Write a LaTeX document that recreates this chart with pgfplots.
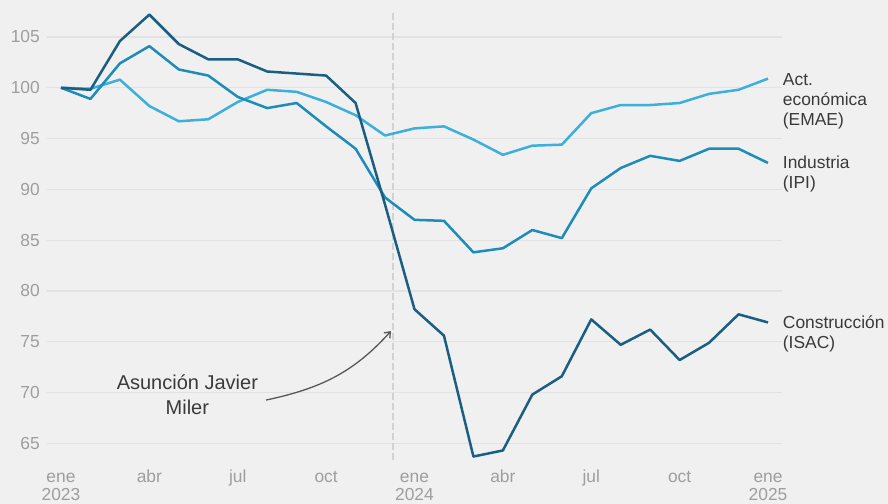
\documentclass[border=0pt]{standalone}
\usepackage{fontspec}
\setmainfont{Liberation Sans}
\usepackage{pgfplots}
\pgfplotsset{compat=1.18}
\usetikzlibrary{arrows.meta}
\definecolor{bg}{HTML}{F0F0F0}
\definecolor{gridc}{HTML}{E2E2E2}
\definecolor{tickc}{HTML}{9E9E9E}
\definecolor{txtc}{HTML}{3A3A3A}
\definecolor{cons}{HTML}{1A5F82}
\definecolor{ind}{HTML}{1E8CB9}
\definecolor{emae}{HTML}{3CAFDC}
\definecolor{vline}{HTML}{D2D2D2}
\pgfplotstableread{
m v
0 100
1 99.8
2 104.6
3 107.2
4 104.3
5 102.8
6 102.8
7 101.6
8 101.4
9 101.2
10 98.5
11 88.5
12 78.2
13 75.6
14 63.7
15 64.3
16 69.8
17 71.6
18 77.2
19 74.7
20 76.2
21 73.2
22 74.9
23 77.7
24 76.9
}\conststable
\pgfplotstableread{
m v
0 100
1 98.9
2 102.4
3 104.1
4 101.8
5 101.2
6 99.1
7 98.0
8 98.5
9 96.2
10 94.0
11 89.2
12 87.0
13 86.9
14 83.8
15 84.2
16 86.0
17 85.2
18 90.1
19 92.1
20 93.3
21 92.8
22 94.0
23 94.0
24 92.6
}\indtable
\pgfplotstableread{
m v
0 100
1 99.9
2 100.8
3 98.2
4 96.7
5 96.9
6 98.6
7 99.8
8 99.6
9 98.6
10 97.3
11 95.3
12 96.0
13 96.2
14 94.9
15 93.4
16 94.3
17 94.4
18 97.5
19 98.3
20 98.3
21 98.5
22 99.4
23 99.8
24 100.9
}\emaetable
\begin{document}
\begin{tikzpicture}
\path[use as bounding box, fill=bg] (0,0) rectangle (888bp,504bp);
\begin{axis}[
  at={(47bp,44bp)}, anchor=south west,
  scale only axis, width=735bp, height=447bp,
  xmin=-0.475, xmax=24.475, ymin=63.36, ymax=107.36,
  clip=false,
  axis line style={draw=none},
  major tick length=0pt,
  ytick={65,70,...,105},
  ymajorgrids,
  grid style={gridc, line width=1.2bp},
  xtick={0,3,...,24},
  xticklabels={ene,abr,jul,oct,ene,abr,jul,oct,ene},
  /pgf/number format/assume math mode=true,
  tick label style={font=\fontsize{17.4bp}{20bp}\selectfont, text=tickc, inner sep=0pt},
  xticklabel style={anchor=base, yshift=-22bp},
  yticklabel style={anchor=east, xshift=-7bp},
  every axis plot/.append style={line width=2.5bp, line join=round, no markers},
]
\draw[vline, line width=1.2bp, dash pattern=on 7bp off 3bp] (axis cs:11.27,63.36) -- (axis cs:11.27,107.36);
\addplot[emae] table[x=m,y=v] {\emaetable};
\addplot[ind] table[x=m,y=v] {\indtable};
\addplot[cons] table[x=m,y=v] {\conststable};
% year labels
\node[anchor=base, text=tickc, inner sep=0pt, font=\fontsize{17.4bp}{20bp}\selectfont] at (axis cs:0,59.4) {2023};
\node[anchor=base, text=tickc, inner sep=0pt, font=\fontsize{17.4bp}{20bp}\selectfont] at (axis cs:12,59.4) {2024};
\node[anchor=base, text=tickc, inner sep=0pt, font=\fontsize{17.4bp}{20bp}\selectfont] at (axis cs:24,59.4) {2025};
% right labels
\begin{scope}[every node/.style={anchor=base west, inner sep=0pt, text=txtc, font=\fontsize{17.4bp}{20bp}\selectfont}]
\node at (axis cs:24.5,100.27) {Act.};
\node at (axis cs:24.5,98.30) {económica};
\node at (axis cs:24.5,96.33) {(EMAE)};
\node at (axis cs:24.5,92.07) {Industria};
\node at (axis cs:24.5,90.10) {(IPI)};
\node at (axis cs:24.5,76.32) {Construcción};
\node at (axis cs:24.5,74.35) {(ISAC)};
\end{scope}
% annotation
\begin{scope}[every node/.style={anchor=base, inner sep=0pt, text=txtc, font=\fontsize{20bp}{24bp}\selectfont}]
\node at (axis cs:4.29,70.32) {Asunción Javier};
\node at (axis cs:4.29,67.85) {Miler};
\end{scope}
\draw[-{Straight Barb[length=5bp,width=8bp]}, color=txtc!85, line width=1.3bp]
  (axis cs:6.96,69.26) to[out=12,in=228] (axis cs:11.2,76.05);
\end{axis}
\end{tikzpicture}
\end{document}
